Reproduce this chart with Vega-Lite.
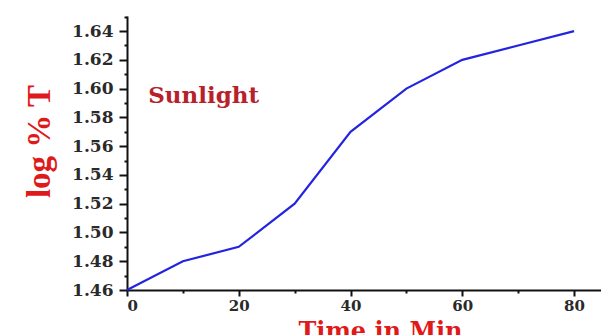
{
  "$schema": "https://vega.github.io/schema/vega-lite/v6.json",
  "width": 475,
  "height": 274,
  "autosize": "none",
  "padding": {"left": 127, "top": 16, "right": 0, "bottom": 45},
  "background": "white",
  "config": {
    "view": {"stroke": null},
    "axis": {
      "labelFont": "DejaVu Serif",
      "labelFontWeight": "bold",
      "labelFontSize": 16,
      "labelColor": "#2a2a2a",
      "labelOverlap": false,
      "domainColor": "#111111",
      "domainWidth": 2,
      "tickColor": "#111111",
      "tickWidth": 2,
      "grid": false,
      "titleFont": "DejaVu Serif",
      "titleFontWeight": "bold",
      "titleColor": "#e01a1a"
    }
  },
  "data": {
    "values": [
      {"t": 0, "v": 1.46},
      {"t": 10, "v": 1.48},
      {"t": 20, "v": 1.49},
      {"t": 30, "v": 1.52},
      {"t": 40, "v": 1.57},
      {"t": 50, "v": 1.60},
      {"t": 60, "v": 1.62},
      {"t": 70, "v": 1.63},
      {"t": 80, "v": 1.64}
    ]
  },
  "layer": [
    {
      "mark": {"type": "line", "color": "#2424e0", "strokeWidth": 2.2},
      "encoding": {
        "x": {
          "field": "t", "type": "quantitative",
          "scale": {"domain": [0, 85], "nice": false},
          "axis": {
            "values": [0, 10, 20, 30, 40, 50, 60, 70, 80],
            "tickCount": 20,
            "labelOverlap": false,
            "labelFontSize": 15,
            "labelExpr": "datum.value % 20 == 0 ? datum.label : ''",
            "tickSize": {"condition": {"test": "datum.value % 20 != 0", "value": 3}, "value": 6},
            "title": "Time in Min", "titleFontSize": 24,
            "titleX": 253, "titleY": 29, "titleBaseline": "top", "labelPadding": 2
          }
        },
        "y": {
          "field": "v", "type": "quantitative",
          "scale": {"domain": [1.46, 1.6505], "nice": false, "zero": false},
          "axis": {
            "values": [1.46, 1.47, 1.48, 1.49, 1.5, 1.51, 1.52, 1.53, 1.54, 1.55, 1.56, 1.57, 1.58, 1.59, 1.6, 1.61, 1.62, 1.63, 1.64, 1.65],
            "tickCount": 40,
            "format": ".2f",
            "labelOverlap": false,
            "labelFontSize": 17,
            "labelExpr": "round(datum.value * 100) % 2 == 0 ? datum.label : ''",
            "tickSize": {"condition": {"test": "round(datum.value * 100) % 2 != 0", "value": 3}, "value": 8},
            "title": "log % T", "titleFontSize": 33, "titleFont": "Liberation Serif",
            "titleX": -71, "titleY": 125, "labelPadding": 6
          }
        }
      }
    },
    {
      "data": {"values": [{"label": "Sunlight", "t": 3.8, "v": 1.595}]},
      "mark": {"type": "text", "align": "left", "baseline": "middle", "font": "DejaVu Serif", "fontWeight": "bold", "fontSize": 23, "color": "#b8202a"},
      "encoding": {
        "x": {"field": "t", "type": "quantitative"},
        "y": {"field": "v", "type": "quantitative"},
        "text": {"field": "label"}
      }
    }
  ]
}
